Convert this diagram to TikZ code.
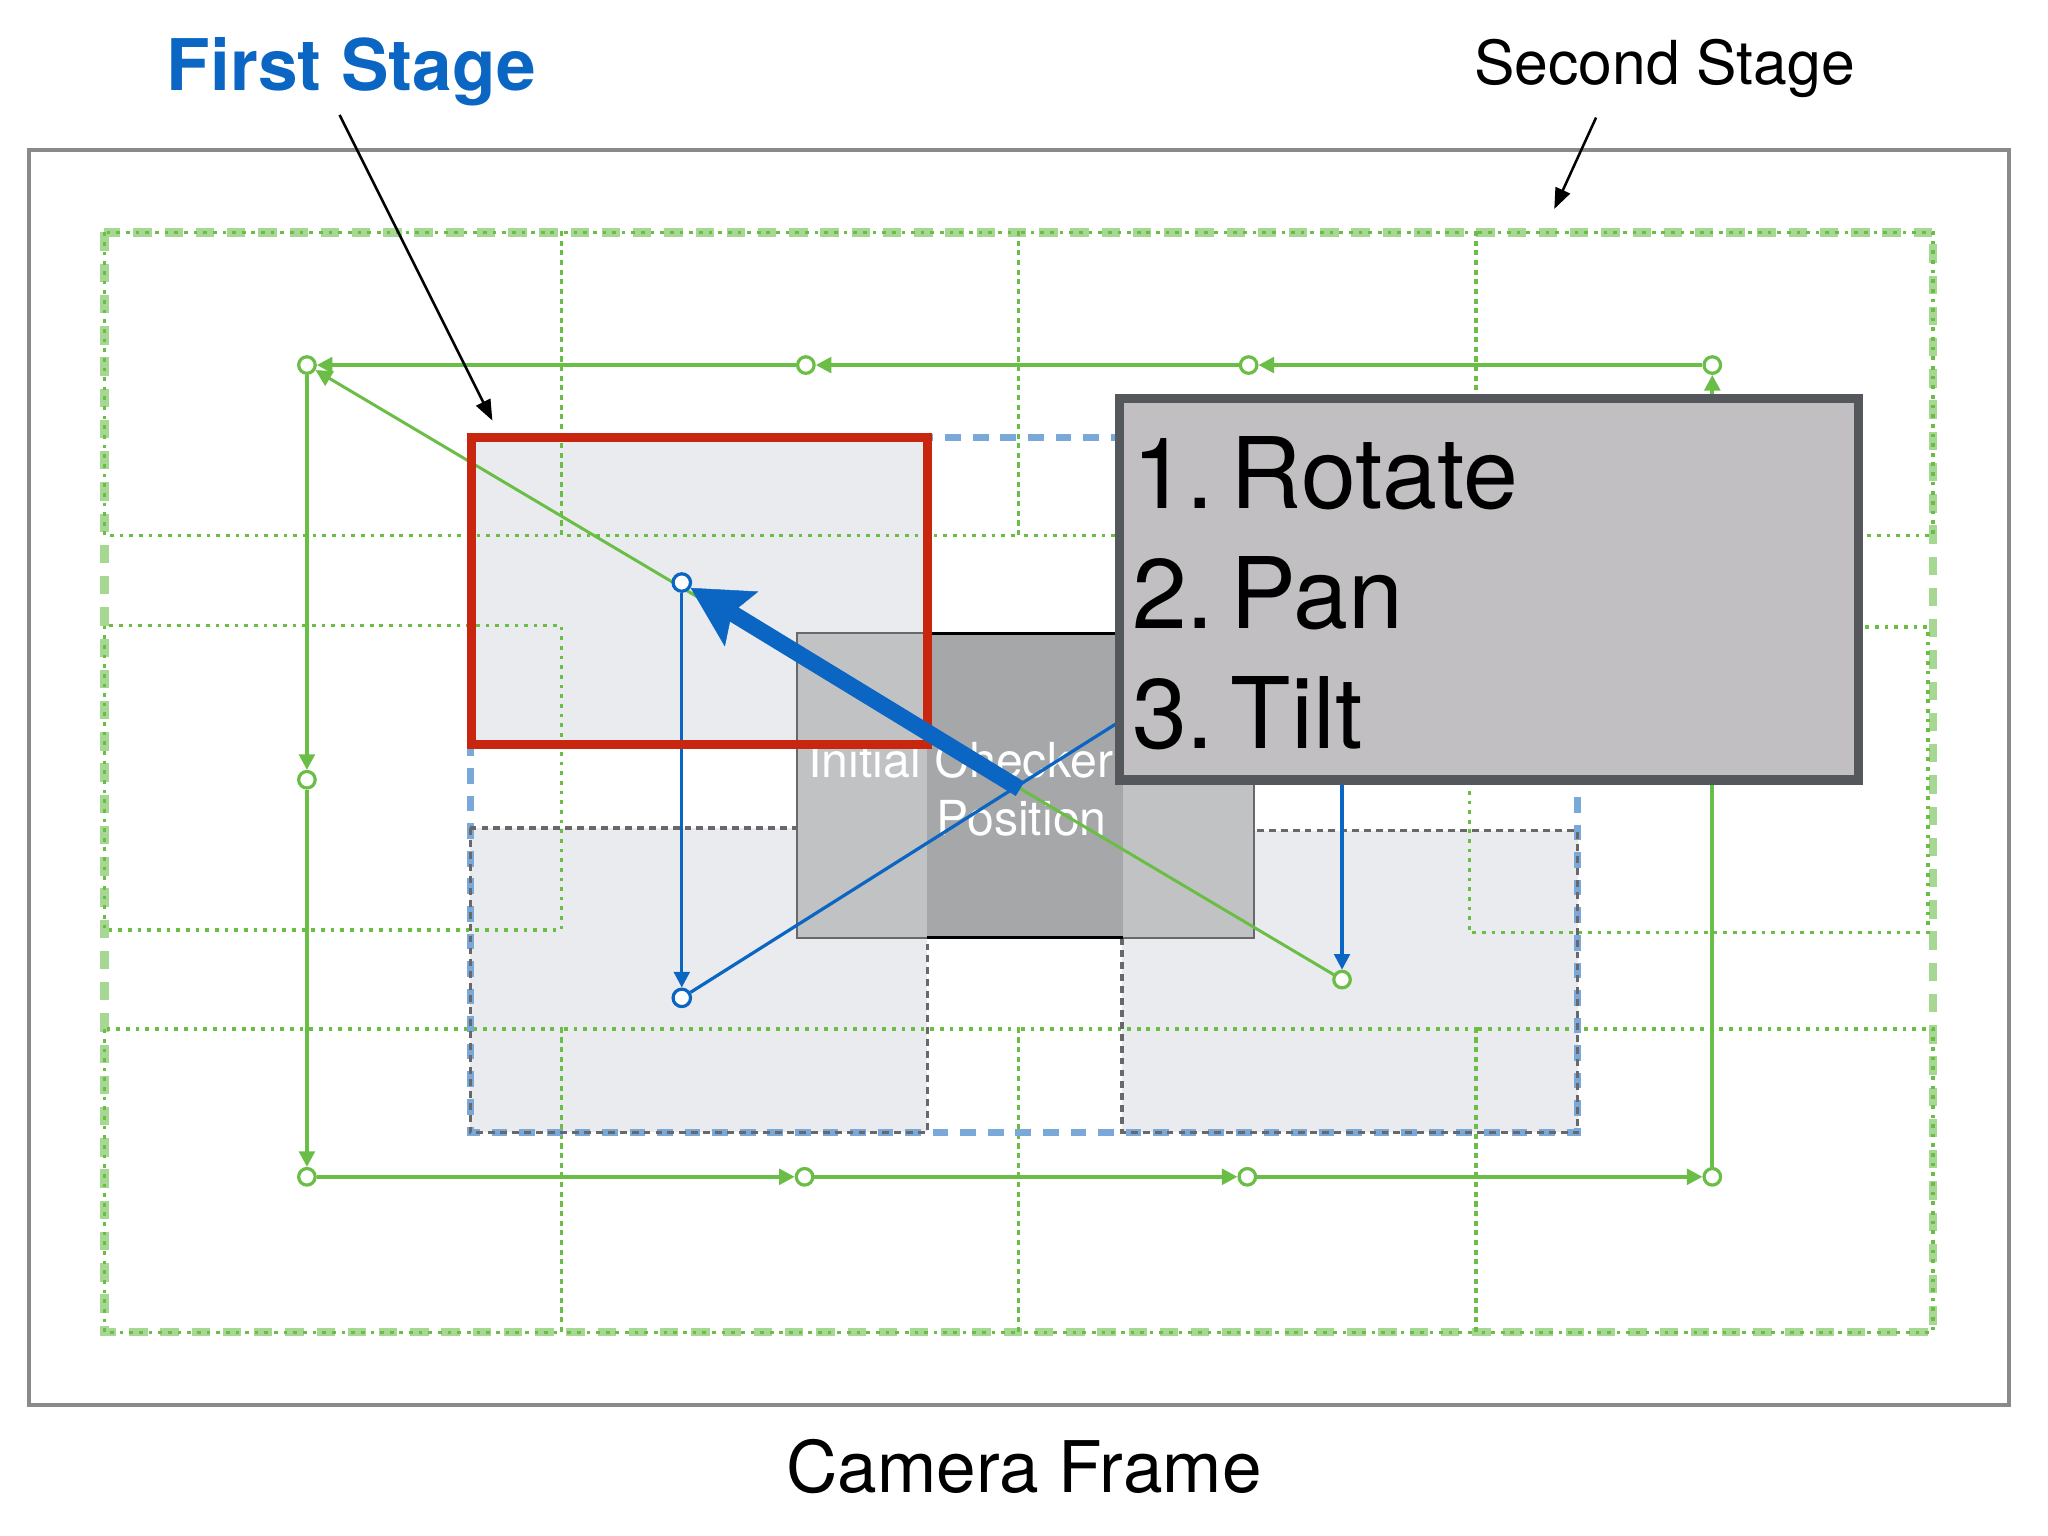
\documentclass[tikz,border=0pt]{standalone}
\usepackage{fontspec}
\setmainfont{TeX Gyre Heros}
\usetikzlibrary{arrows.meta}
\definecolor{tblue}{RGB}{10,102,194}
\definecolor{gr}{RGB}{106,190,69}
\definecolor{lgr}{RGB}{158,212,136}
\definecolor{redb}{RGB}{200,38,14}
\definecolor{dblue}{RGB}{122,168,216}
\definecolor{dgray}{RGB}{104,104,106}
\definecolor{lfill}{RGB}{233,235,239}
\definecolor{chkl}{RGB}{193,194,196}
\definecolor{chkd}{RGB}{166,167,169}
\definecolor{boxf}{RGB}{193,191,193}
\definecolor{boxb}{RGB}{84,87,92}
\definecolor{framec}{RGB}{138,138,138}
\tikzset{
  gridline/.style={draw=gr, line width=0.75pt, dash pattern=on 0.8pt off 1.3pt},
  outerdash/.style={draw=lgr, line width=1.8pt, dash pattern=on 4pt off 2.8pt, opacity=0.9},
  graydash/.style={draw=dgray, line width=0.7pt, dash pattern=on 1.5pt off 1.1pt},
  bluedash/.style={draw=dblue, line width=1.6pt, dash pattern=on 3.4pt off 2.6pt},
  gmark/.style={circle, draw=gr, fill=white, line width=0.7pt, minimum size=3.6pt, inner sep=0pt},
  bmark/.style={circle, draw=tblue, fill=white, line width=0.7pt, minimum size=3.8pt, inner sep=0pt},
  gpath/.style={draw=gr, line width=0.8pt, -{Triangle[length=3.4pt,width=3.4pt]}},
  gdiag/.style={draw=gr, line width=0.65pt, -{Triangle[length=3.6pt,width=3.6pt]}},
  bpath/.style={draw=tblue, line width=0.7pt, -{Triangle[length=3.4pt,width=3.4pt]}},
  bline/.style={draw=tblue, line width=0.7pt},
  bigarrow/.style={draw=tblue, line width=3.6pt, -{Stealth[length=13pt,width=14pt,inset=2.5pt,line width=0.1pt]}},
  callout/.style={draw=black, line width=0.55pt, -{Triangle[length=4.5pt,width=3.4pt]}},
  chktext/.style={text=white, inner sep=0pt, font=\fontsize{10.5}{12.6}\selectfont},
  listtext/.style={text=black, inner sep=0pt, anchor=base west, font=\fontsize{21.5}{26}\selectfont},
}
\begin{document}
\begin{tikzpicture}[x=0.01cm,y=-0.01cm]
\useasboundingbox (0,0) rectangle (1568,1176);
\fill[white] (0,0) rectangle (1568,1176);
% camera frame
\draw[framec, line width=0.9pt] (22.5,115) rectangle (1538,1076);
% light fills of sub-positions
\fill[lfill] (361,335) rectangle (710,570);
\fill[lfill] (360,634) rectangle (710,867);
\fill[lfill] (859,636) rectangle (1208,867);
% second stage grid
\draw[outerdash] (80,178) rectangle (1480,1020);
\foreach \a/\b in {80/430,430/780,780/1130,1130/1480}{
  \draw[gridline] (\a,178) rectangle (\b,410);
  \draw[gridline] (\a,788) rectangle (\b,1020);
}
\draw[gridline] (80,479) rectangle (430,712);
\draw[gridline] (1125,480) rectangle (1476,714);
% first stage region
\draw[bluedash] (360,335) rectangle (1208,867);
\draw[graydash] (360,634) rectangle (710,867);
\draw[graydash] (859,636) rectangle (1208,867);
% initial checker
\fill[chkl] (610,485) rectangle (960,718);
\draw[draw=dgray, line width=0.45pt] (610,485) rectangle (960,718);
\fill[chkd] (710,485) rectangle (860,718);
\draw[black, line width=0.6pt] (710,485) -- (860,485) (710,718) -- (860,718);
\node[chktext, anchor=base east] (chk1) at (853,595) {Initial Checker};
\node[chktext, anchor=base east] (chk2) at (848,640) {Position};
% green markers
\node[gmark] (gTR) at (1311,279.5) {};
\node[gmark] (gT2) at (956,279.5) {};
\node[gmark] (gT1) at (617,279.5) {};
\node[gmark] (gTL) at (235,279.5) {};
\node[gmark] (gL1) at (235,597) {};
\node[gmark] (gBL) at (235,901) {};
\node[gmark] (gB1) at (616,901) {};
\node[gmark] (gB2) at (955,901) {};
\node[gmark] (gBR) at (1311,901) {};
\node[gmark] (gS) at (1027.5,750) {};
% green path
\draw[gpath] (gTR) -- (gT2);
\draw[gpath] (gT2) -- (gT1);
\draw[gpath] (gT1) -- (gTL);
\draw[gpath] (gTL) -- (gL1);
\draw[gpath] (gL1) -- (gBL);
\draw[gpath] (gBL) -- (gB1);
\draw[gpath] (gB1) -- (gB2);
\draw[gpath] (gB2) -- (gBR);
\draw[gpath] (gBR) -- (gTR);
\draw[gdiag] (gS) -- (gTL);
% blue path
\node[bmark] (bTL) at (522,446) {};
\node[bmark] (bBL) at (522,764) {};
\coordinate (bTR) at (1027.5,445);
\draw[bpath] (bTL) -- (bBL);
\draw[bline] (bBL) -- (bTR);
\draw[bpath] (bTR) -- (gS);
% red box
\draw[redb, line width=2pt] (361,335) rectangle (710,570);
% thick arrow
\coordinate (ctr) at (781,604);
\draw[bigarrow] (ctr) -- (bTL);
% text box
\filldraw[fill=boxf, draw=boxb, line width=2.1pt] (857,305) rectangle (1423,597);
\node[listtext] (l1) at (866,389) {1.\kern3.6pt Rotate};
\node[listtext] (l2) at (866,481) {2.\kern3.6pt Pan};
\node[listtext] (l3) at (866,573) {3.\kern3.6pt Tilt};
% labels
\node[anchor=base west, inner sep=0pt, text=tblue, font=\bfseries\fontsize{15.5}{18}\selectfont] (fs) at (127,69) {First Stage};
\node[anchor=base west, inner sep=0pt, font=\fontsize{13.2}{16}\selectfont] (ss) at (1128,65) {Second Stage};
\node[anchor=base, inner sep=0pt, font=\fontsize{15.5}{18}\selectfont] (cf) at (784,1143) {Camera Frame};
% callouts
\coordinate (fsA) at (260,88);
\coordinate (fsB) at (377,322);
\draw[callout] (fsA) -- (fsB);
\coordinate (ssA) at (1222,90);
\coordinate (ssB) at (1190,160);
\draw[callout] (ssA) -- (ssB);
\end{tikzpicture}
\end{document}
